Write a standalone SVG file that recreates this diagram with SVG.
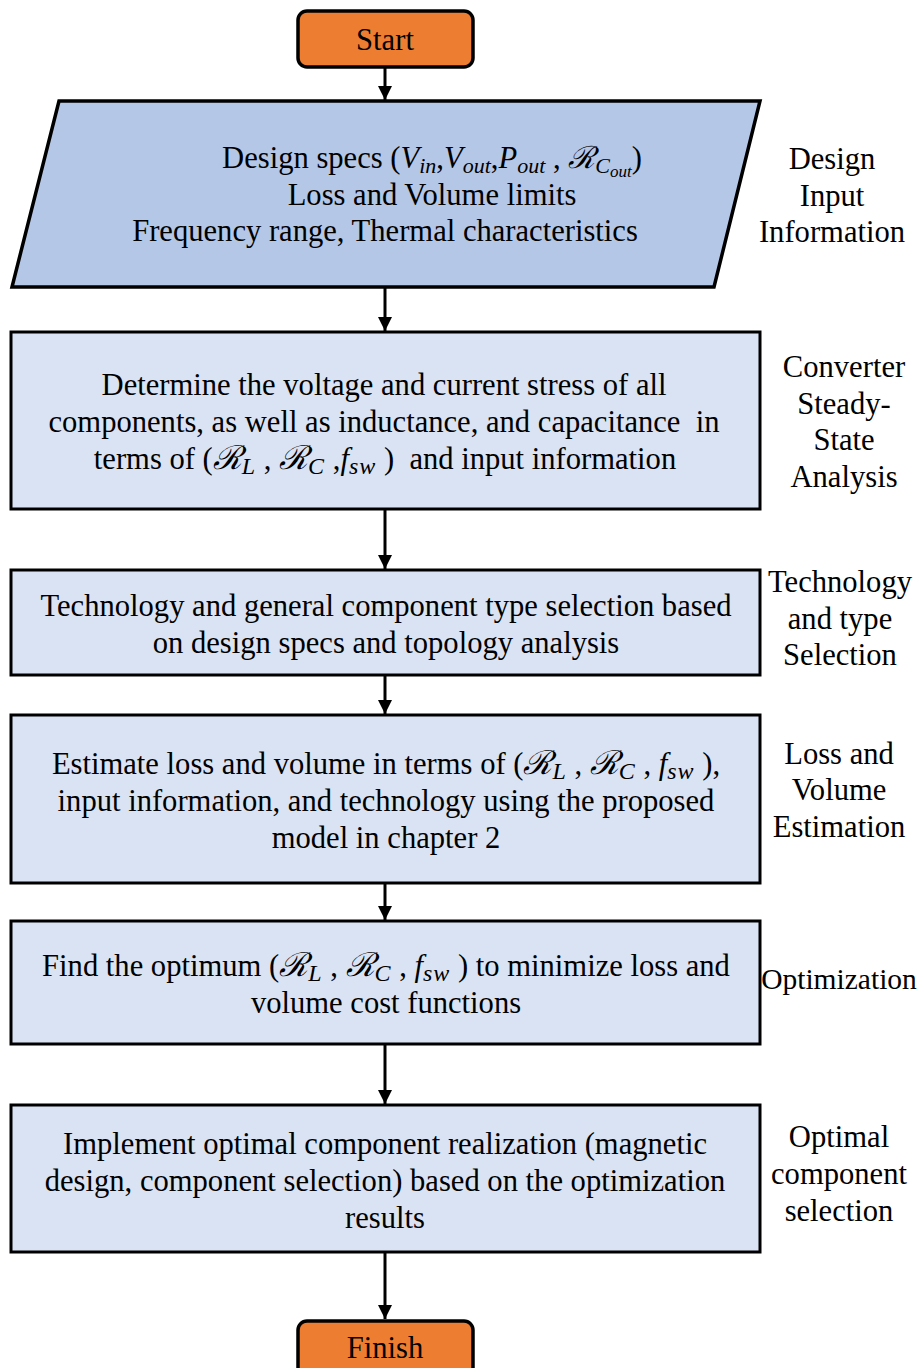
<svg xmlns="http://www.w3.org/2000/svg" width="919" height="1368" viewBox="0 0 919 1368">
<style>
.t{font-family:"Liberation Serif","DejaVu Serif",serif;font-size:30.6px;fill:#000;text-anchor:middle}
.m{font-style:italic}
.r{font-style:italic;font-size:33px}
.s{font-size:24px;font-style:italic;letter-spacing:1px}
.s2{font-size:22px;font-style:italic}
.ss{font-size:17px;font-style:italic}
.term{fill:#ED7D31;stroke:#000;stroke-width:3.5}
.io{fill:#B4C7E7;stroke:#000;stroke-width:3.5}
.proc{fill:#DAE3F3;stroke:#000;stroke-width:3}
.conn{stroke:#000;stroke-width:3;fill:none;marker-end:url(#ah)}
</style>
<defs>
<marker id="ah" markerWidth="14" markerHeight="14" viewBox="0 0 14 14" refX="14" refY="7" orient="auto" markerUnits="userSpaceOnUse">
<path d="M0,0 L14,7 L0,14 Z" fill="#000"/>
</marker>
</defs>
<rect width="919" height="1368" fill="#fff"/>
<g id="connectors">
<line class="conn" x1="385" y1="67" x2="385" y2="100"/>
<line class="conn" x1="385" y1="288" x2="385" y2="331"/>
<line class="conn" x1="385" y1="510" x2="385" y2="569"/>
<line class="conn" x1="385" y1="676" x2="385" y2="714"/>
<line class="conn" x1="385" y1="884" x2="385" y2="920"/>
<line class="conn" x1="385" y1="1045" x2="385" y2="1104"/>
<line class="conn" x1="385" y1="1253" x2="385" y2="1319"/>
</g>
<g id="start">
<rect class="term" x="298" y="11" width="175" height="56" rx="9"/>
<text class="t" x="385" y="50">Start</text>
</g>
<g id="input">
<polygon class="io" points="59,101 760,101 714,287 12,287"/>
<text class="t" x="432" y="168">Design specs (<tspan class="m">V</tspan><tspan class="s2" dy="5">in</tspan><tspan dy="-5">,</tspan><tspan class="m">V</tspan><tspan class="s2" dy="5">out</tspan><tspan dy="-5">,</tspan><tspan class="m">P</tspan><tspan class="s2" dy="5">out</tspan><tspan dy="-5"> , </tspan><tspan class="m">ℛ</tspan><tspan class="s2" dy="5">C</tspan><tspan class="ss" dy="4">out</tspan><tspan dy="-9">)</tspan></text>
<text class="t" x="432" y="205">Loss and Volume limits</text>
<text class="t" x="385" y="241">Frequency range, Thermal characteristics</text>
</g>
<g id="label-input">
<text class="t" x="832" y="169">Design</text>
<text class="t" x="832" y="206">Input</text>
<text class="t" x="832" y="242">Information</text>
</g>
<g id="analysis">
<rect class="proc" x="11" y="332" width="749" height="177"/>
<text class="t" x="384" y="395">Determine the voltage and current stress of all</text>
<text class="t" x="384" y="432">components, as well as inductance, and capacitance&#160; in</text>
<text class="t" x="385" y="469">terms of (<tspan class="r">ℛ</tspan><tspan class="s" dy="5">L</tspan><tspan dy="-5">&#160;, </tspan><tspan class="r">ℛ</tspan><tspan class="s" dy="5">C</tspan><tspan dy="-5">&#160;,</tspan><tspan class="m">f</tspan><tspan class="s" dy="5">sw</tspan><tspan dy="-5">&#160;)&#160; and input information</tspan></text>
</g>
<g id="label-analysis">
<text class="t" x="844" y="377">Converter</text>
<text class="t" x="844" y="414">Steady-</text>
<text class="t" x="844" y="450">State</text>
<text class="t" x="844" y="487">Analysis</text>
</g>
<g id="technology">
<rect class="proc" x="11" y="570" width="749" height="105"/>
<text class="t" x="386" y="616">Technology and general component type selection based</text>
<text class="t" x="386" y="653">on design specs and topology analysis</text>
</g>
<g id="label-technology">
<text class="t" x="840" y="592">Technology</text>
<text class="t" x="840" y="629">and type</text>
<text class="t" x="840" y="665">Selection</text>
</g>
<g id="estimate">
<rect class="proc" x="11" y="715" width="749" height="168"/>
<text class="t" x="386" y="774">Estimate loss and volume in terms of (<tspan class="r">ℛ</tspan><tspan class="s" dy="5">L</tspan><tspan dy="-5">&#160;, </tspan><tspan class="r">ℛ</tspan><tspan class="s" dy="5">C</tspan><tspan dy="-5">&#160;, </tspan><tspan class="m">f</tspan><tspan class="s" dy="5">sw</tspan><tspan dy="-5">&#160;),</tspan></text>
<text class="t" x="386" y="811">input information, and technology using the proposed</text>
<text class="t" x="386" y="848">model in chapter 2</text>
</g>
<g id="label-estimate">
<text class="t" x="839" y="764">Loss and</text>
<text class="t" x="839" y="800">Volume</text>
<text class="t" x="839" y="837">Estimation</text>
</g>
<g id="optimize">
<rect class="proc" x="11" y="921" width="749" height="123"/>
<text class="t" x="386" y="976">Find the optimum (<tspan class="r">ℛ</tspan><tspan class="s" dy="5">L</tspan><tspan dy="-5">&#160;, </tspan><tspan class="r">ℛ</tspan><tspan class="s" dy="5">C</tspan><tspan dy="-5">&#160;, </tspan><tspan class="m">f</tspan><tspan class="s" dy="5">sw</tspan><tspan dy="-5">&#160;) to minimize loss and</tspan></text>
<text class="t" x="386" y="1013">volume cost functions</text>
</g>
<g id="label-optimize">
<text class="t" x="839" y="989" style="font-size:29.5px">Optimization</text>
</g>
<g id="implement">
<rect class="proc" x="11" y="1105" width="749" height="147"/>
<text class="t" x="385" y="1154">Implement optimal component realization (magnetic</text>
<text class="t" x="385" y="1191">design, component selection) based on the optimization</text>
<text class="t" x="385" y="1228">results</text>
</g>
<g id="label-implement">
<text class="t" x="839" y="1147">Optimal</text>
<text class="t" x="839" y="1184">component</text>
<text class="t" x="839" y="1221">selection</text>
</g>
<g id="finish">
<rect class="term" x="298" y="1321" width="175" height="60" rx="9"/>
<text class="t" x="385" y="1358">Finish</text>
</g>
</svg>
